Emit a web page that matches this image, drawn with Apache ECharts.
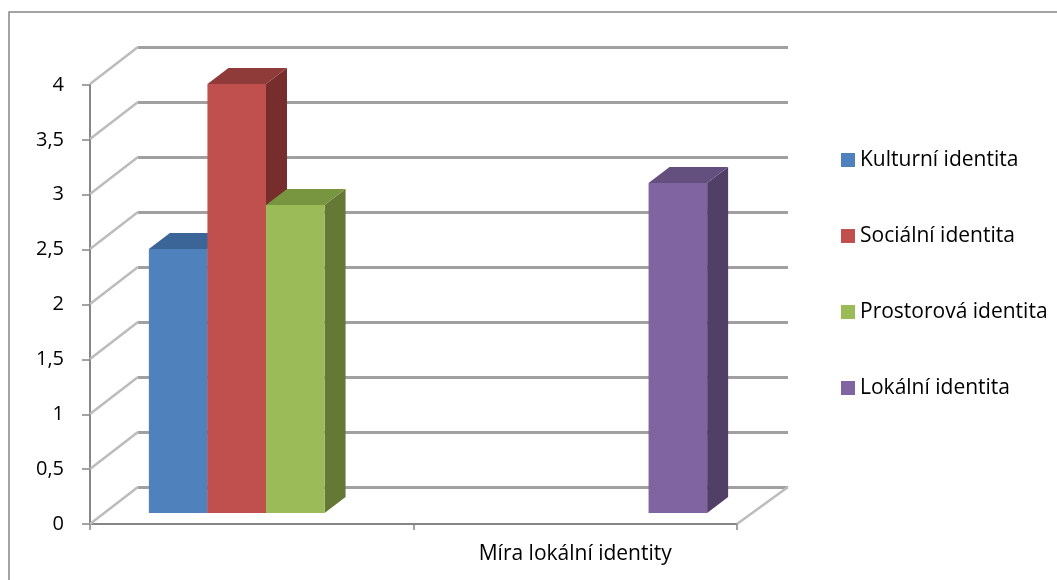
<!DOCTYPE html>
<html>
<head>
<meta charset="utf-8">
<script src="https://cdn.jsdelivr.net/npm/echarts@6/dist/echarts.min.js"></script>
<style>
html,body{margin:0;padding:0;background:#fff;}
#chart{width:1057px;height:580px;}
</style>
</head>
<body>
<div id="chart"></div>
<script>
// ---- data ----
var categories = ['', 'Míra lokální identity'];
var seriesNames = ['Kulturní identita', 'Sociální identita', 'Prostorová identita', 'Lokální identita'];
var kulturni = [2.4, null];
var socialni = [3.9, null];
var prostorova = [2.8, null];
var lokalni = [null, 3.0];
var yTicks = [0, 0.5, 1, 1.5, 2, 2.5, 3, 3.5, 4];

// ---- style ----
var FONT = '"Open Sans", "Liberation Sans", sans-serif';
var faces = [
  {front: '#4F81BD', top: '#3C6597', side: '#385D8A'},
  {front: '#C0504D', top: '#8F3B39', side: '#772D2C'},
  {front: '#9BBB59', top: '#78953F', side: '#657836'},
  {front: '#8064A2', top: '#64507F', side: '#523F68'}
];
var GAP = 0.277;      // category gap fraction
var DX = 21, DY = -16; // bar depth
var WX = 48, WY = 37;  // wall depth

var chart = echarts.init(document.getElementById('chart'));

function boxRenderer(slot) {
  return function (params, api) {
    var v = api.value(1);
    if (v === null || v === undefined || isNaN(v)) return;
    var cat = api.value(0);
    var base = api.coord([cat, 0]);
    var top = api.coord([cat, v]);
    var catW = api.size([1, 0])[0];
    var barW = catW * (1 - GAP) / seriesNames.length;
    var x0 = base[0] - catW * (1 - GAP) / 2 + slot * barW;
    var x1 = x0 + barW;
    var y0 = base[1], y1 = top[1];
    var f = faces[slot];
    return {
      type: 'group',
      children: [
        {type: 'polygon', shape: {points: [[x1, y1], [x1 + DX, y1 + DY], [x1 + DX, y0 + DY], [x1, y0]]},
         style: {fill: f.side}},
        {type: 'polygon', shape: {points: [[x0, y1], [x0 + DX, y1 + DY], [x1 + DX, y1 + DY], [x1, y1]]},
         style: {fill: f.top}},
        {type: 'rect', shape: {x: x0, y: y1, width: barW, height: y0 - y1},
         style: {fill: f.front}}
      ]
    };
  };
}

function wallRenderer(params, api) {
  var cs = params.coordSys;
  var y = api.coord([0, api.value(0)])[1];
  var children = [
    {type: 'line', shape: {x1: cs.x - WX, y1: y + WY, x2: cs.x, y2: y},
     style: {stroke: '#bcbcbc', lineWidth: 2.5}}
  ];
  if (api.value(0) === 0) {
    var xr = cs.x + cs.width;
    children.push({type: 'line', shape: {x1: xr - WX - 3, y1: y + WY, x2: xr, y2: y},
      style: {stroke: '#bcbcbc', lineWidth: 2.5}});
  }
  return {type: 'group', children: children};
}

var valueLists = [kulturni, socialni, prostorova, lokalni];
var barSeries = valueLists.map(function (list, s) {
  return {
    type: 'custom',
    name: seriesNames[s],
    xAxisIndex: 2, yAxisIndex: 2,
    itemStyle: {color: faces[s].front},
    renderItem: boxRenderer(s),
    data: list.map(function (v, i) { return [i, v]; }),
    z: 5
  };
});

var option = {
  animation: false,
  backgroundColor: '#fff',
  graphic: [{
    type: 'rect', shape: {x: 9, y: 12, width: 1100, height: 600},
    style: {fill: 'none', stroke: '#868686', lineWidth: 1.5}, silent: true
  }],
  legend: {
    orient: 'vertical',
    left: 836, top: 144,
    itemWidth: 14, itemHeight: 14, itemGap: 54,
    icon: 'rect',
    data: seriesNames,
    textStyle: {fontFamily: FONT, fontSize: 21, color: '#000', lineHeight: 22}
  },
  grid: [
    {left: 90, top: 85, width: 647, height: 439},
    {left: 138, top: 47, width: 650, height: 440},
    {left: 104, top: 73, width: 648, height: 440}
  ],
  xAxis: [
    {gridIndex: 0, type: 'category', data: categories,
     axisLine: {lineStyle: {color: '#868686', width: 2}},
     axisTick: {show: true, length: 6, lineStyle: {color: '#868686', width: 1.5}},
     axisLabel: {fontFamily: FONT, fontSize: 21, color: '#000', margin: 20},
     splitLine: {show: false}},
    {gridIndex: 1, type: 'category', data: categories, show: false},
    {gridIndex: 2, type: 'category', data: categories, show: false}
  ],
  yAxis: [
    {gridIndex: 0, type: 'value', min: 0, max: 4, interval: 0.5,
     axisLine: {show: true, lineStyle: {color: '#868686', width: 2}},
     axisTick: {show: true, length: 8, lineStyle: {color: '#868686', width: 1.5}},
     axisLabel: {fontFamily: FONT, fontSize: 20, color: '#000', margin: 26,
       formatter: function (v) { return String(v).replace('.', ','); }},
     splitLine: {show: false}},
    {gridIndex: 1, type: 'value', min: 0, max: 4, interval: 0.5,
     axisLine: {show: false}, axisTick: {show: false}, axisLabel: {show: false},
     splitLine: {show: true, lineStyle: {color: '#a0a0a0', width: 3}}},
    {gridIndex: 2, type: 'value', min: 0, max: 4, show: false}
  ],
  series: [{
    type: 'custom',
    xAxisIndex: 1, yAxisIndex: 1,
    renderItem: wallRenderer,
    data: yTicks.map(function (t) { return [t]; }),
    encode: {y: 0},
    silent: true,
    z: 1
  }].concat(barSeries)
};
chart.setOption(option);
</script>
</body>
</html>
